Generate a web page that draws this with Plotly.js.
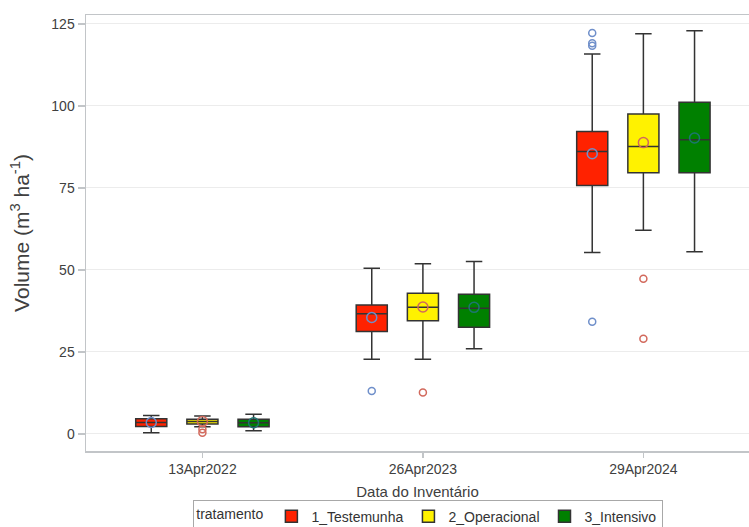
<!DOCTYPE html>
<html>
<head>
<meta charset="utf-8">
<script src="https://cdn.plot.ly/plotly-3.0.1.min.js"></script>
<style>html,body{margin:0;padding:0;background:#fff;}#chart{width:749px;height:527px;}</style>
</head>
<body>
<div id="chart"></div>
<script>
// ---- data ----
const categories = ['13Apr2022', '26Apr2023', '29Apr2024'];
const treatments = ['1_Testemunha', '2_Operacional', '3_Intensivo'];

// 1_Testemunha
const testemunhaQ1     = [2.3, 31.2, 75.7];
const testemunhaMedian = [3.5, 36.6, 86.1];
const testemunhaQ3     = [4.6, 39.3, 92.2];
const testemunhaLower  = [0.4, 22.8, 55.3];
const testemunhaUpper  = [5.6, 50.5, 115.8];
const testemunhaMean   = [3.5, 35.5, 85.4];
const testemunhaOutlierDate  = [1, 2, 2, 2, 2];
const testemunhaOutlierValue = [13.1, 122.2, 119.1, 118.3, 34.2];

// 2_Operacional
const operacionalQ1     = [3.0, 34.5, 79.6];
const operacionalMedian = [3.8, 38.6, 87.6];
const operacionalQ3     = [4.5, 42.9, 97.5];
const operacionalLower  = [2.2, 22.8, 62.1];
const operacionalUpper  = [5.5, 51.9, 122.0];
const operacionalMean   = [3.8, 38.7, 88.8];
const operacionalOutlierDate  = [0, 0, 1, 2, 2];
const operacionalOutlierValue = [1.4, 0.4, 12.6, 47.3, 29.0];

// 3_Intensivo
const intensivoQ1     = [2.2, 32.5, 79.6];
const intensivoMedian = [3.4, 38.3, 89.7];
const intensivoQ3     = [4.5, 42.6, 101.1];
const intensivoLower  = [1.0, 26.0, 55.5];
const intensivoUpper  = [6.0, 52.6, 122.9];
const intensivoMean   = [3.4, 38.6, 90.2];
const intensivoOutlierDate  = [];
const intensivoOutlierValue = [];

const yTicks = [0, 25, 50, 75, 100, 125];

// ---- styling ----
const fillColors   = ['#ff2200', '#fff200', '#008000'];
const markerColors = ['#6f8fca', '#d2695c', '#1d7570'];
const groupSpacing = 0.232;
const boxWidth = 0.141;

const series = [
  {q1: testemunhaQ1, med: testemunhaMedian, q3: testemunhaQ3, lo: testemunhaLower, hi: testemunhaUpper, mean: testemunhaMean, od: testemunhaOutlierDate, ov: testemunhaOutlierValue},
  {q1: operacionalQ1, med: operacionalMedian, q3: operacionalQ3, lo: operacionalLower, hi: operacionalUpper, mean: operacionalMean, od: operacionalOutlierDate, ov: operacionalOutlierValue},
  {q1: intensivoQ1, med: intensivoMedian, q3: intensivoQ3, lo: intensivoLower, hi: intensivoUpper, mean: intensivoMean, od: intensivoOutlierDate, ov: intensivoOutlierValue}
];

const traces = [];
series.forEach((s, j) => {
  const off = (j - 1) * groupSpacing;
  const xs = categories.map((c, i) => i + off);
  traces.push({
    type: 'box', name: treatments[j], x: xs,
    q1: s.q1, median: s.med, q3: s.q3, lowerfence: s.lo, upperfence: s.hi,
    width: boxWidth, whiskerwidth: 0.53,
    fillcolor: fillColors[j], line: {color: '#333333', width: 1.5},
    boxpoints: false, hoverinfo: 'skip', showlegend: true
  });
});
series.forEach((s, j) => {
  const off = (j - 1) * groupSpacing;
  traces.push({
    type: 'scatter', mode: 'markers', showlegend: false, hoverinfo: 'skip',
    x: categories.map((c, i) => i + off), y: s.mean,
    marker: {symbol: 'circle-open', size: 10, color: markerColors[j], line: {width: 1.5, color: markerColors[j]}}
  });
  traces.push({
    type: 'scatter', mode: 'markers', showlegend: false, hoverinfo: 'skip',
    x: s.od.map(i => i + off), y: s.ov,
    marker: {symbol: 'circle-open', size: 7, color: markerColors[j], line: {width: 1.5, color: markerColors[j]}}
  });
});

const font = 'Liberation Sans, Arial, sans-serif';
const layout = {
  width: 749, height: 527,
  margin: {l: 86, r: 0, t: 15, b: 76},
  paper_bgcolor: '#ffffff', plot_bgcolor: '#ffffff',
  font: {family: font, color: '#404040', size: 14},
  showlegend: true,
  xaxis: {
    automargin: false,
    range: [-0.528, 2.479], tickvals: categories.map((c, i) => i), ticktext: categories,
    showgrid: false, zeroline: false,
    showline: true, linecolor: '#c2c5c8', linewidth: 1.5, mirror: true,
    ticks: 'outside', ticklen: 5, tickcolor: '#c2c5c8', tickwidth: 1.5,
    tickfont: {size: 14, color: '#404040'},
    title: {text: 'Data do Inventário', font: {size: 15, color: '#404040'}, standoff: 10}
  },
  yaxis: {
    automargin: false,
    range: [-5.2, 127.7], tickvals: yTicks,
    showgrid: true, gridcolor: '#ececec', gridwidth: 1, zeroline: false,
    showline: true, linecolor: '#c2c5c8', linewidth: 1.5,
    ticks: 'outside', ticklen: 7, tickcolor: '#c2c5c8', tickwidth: 1.5,
    tickfont: {size: 14, color: '#404040'},
    title: {text: 'Volume (m<sup>3</sup> ha<sup>-1</sup>)', font: {size: 21, color: '#404040'}, standoff: 16}
  },
  legend: {
    orientation: 'h', xref: 'container', yref: 'container',
    x: 0.258, xanchor: 'left', y: 0.052, yanchor: 'top',
    bordercolor: '#a8a8a8', borderwidth: 1, bgcolor: '#ffffff',
    font: {size: 14, color: '#333333'},
    title: {text: 'tratamento', side: 'left', font: {size: 14, color: '#333333'}},
    itemwidth: 30, traceorder: 'normal'
  }
};

Plotly.newPlot('chart', traces, layout, {staticPlot: true, displayModeBar: false});
</script>
</body>
</html>
